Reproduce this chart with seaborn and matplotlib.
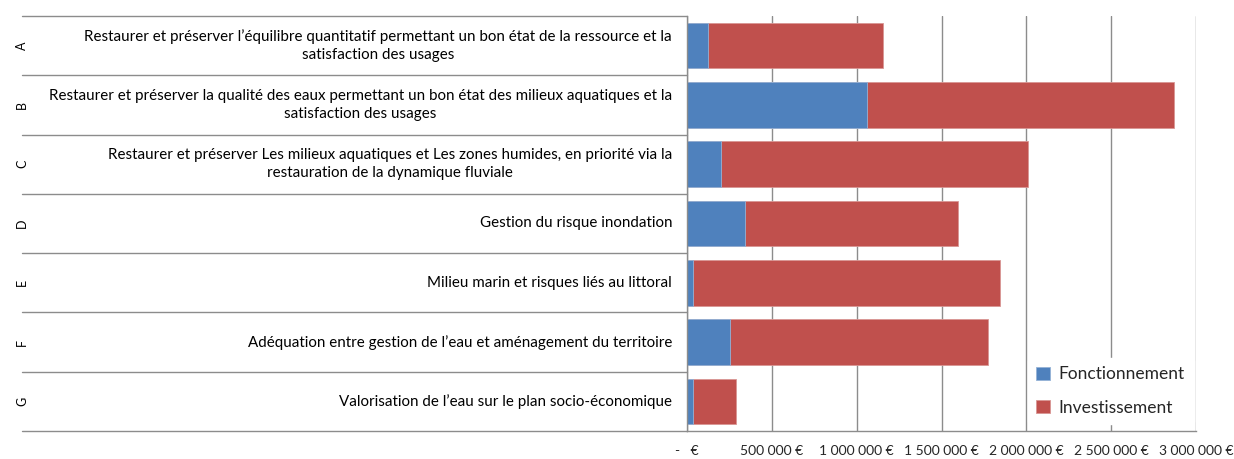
import numpy as np
import pandas as pd
import matplotlib
matplotlib.use('Agg')
import matplotlib.pyplot as plt
import seaborn as sns
from matplotlib.ticker import FuncFormatter

# Data
lettres = ['A', 'B', 'C', 'D', 'E', 'F', 'G']
libelles = [
    "Restaurer et préserver l’équilibre quantitatif permettant un bon état de la ressource et la\nsatisfaction des usages",
    "Restaurer et préserver la qualité des eaux permettant un bon état des milieux aquatiques et la\nsatisfaction des usages",
    "Restaurer et préserver Les milieux aquatiques et Les zones humides, en priorité via la\nrestauration de la dynamique fluviale",
    "Gestion du risque inondation",
    "Milieu marin et risques liés au littoral",
    "Adéquation entre gestion de l’eau et aménagement du territoire",
    "Valorisation de l’eau sur le plan socio-économique",
]
fonctionnement = [122000, 1058000, 200000, 343000, 38000, 253000, 38000]
investissement = [1032000, 1813000, 1810000, 1254000, 1808000, 1523000, 252000]
xticks = [0, 500000, 1000000, 1500000, 2000000, 2500000, 3000000]

BLEU = '#4F81BD'
ROUGE = '#C0504D'
GRIS = '#8C8C8C'

df = pd.DataFrame({'lettre': lettres, 'fonct': fonctionnement, 'invest': investissement})
df['total'] = df['fonct'] + df['invest']

sns.set_style('white')
plt.rcParams['font.family'] = ['Lato', 'DejaVu Sans']

W, H = 1234, 459
fig = plt.figure(figsize=(W / 100, H / 100), dpi=100)
ax = fig.add_axes([687 / W, (H - 431) / H, (1196 - 687) / W, (431 - 16) / H])

sns.barplot(data=df, y='lettre', x='total', color=ROUGE, orient='h', width=0.77,
            saturation=1, ax=ax, label='Investissement', edgecolor='#D99694', linewidth=0.6)
sns.barplot(data=df, y='lettre', x='fonct', color=BLEU, orient='h', width=0.77,
            saturation=1, ax=ax, label='Fonctionnement', edgecolor='#95B3D7', linewidth=0.6)

ax.set_xlim(0, 3000000)
ax.set_ylim(6.5, -0.5)
ax.set_xticks(xticks)

def fmt_euro(v, pos):
    if v == 0:
        return '-   €'
    return '{:,.0f} €'.format(v).replace(',', ' ')

ax.xaxis.set_major_formatter(FuncFormatter(fmt_euro))
ax.tick_params(axis='x', direction='out', length=5, color=GRIS, labelsize=10, pad=5)
ax.set_yticks([])
ax.set_xlabel('')
ax.set_ylabel('')
ax.xaxis.grid(True, color=GRIS, linewidth=1)
ax.set_axisbelow(True)

for s in ['top', 'right']:
    ax.spines[s].set_visible(False)
for s in ['left', 'bottom']:
    ax.spines[s].set_color(GRIS)
    ax.spines[s].set_linewidth(1)

# category axis on the left: labels, letters and separators
tr = ax.get_yaxis_transform()
px = 1 / (1196 - 687)
for i, (l, t) in enumerate(zip(lettres, libelles)):
    ax.text(-15 * px, i, t, transform=tr, ha='right', va='center', multialignment='center',
            fontsize=10.9, color='black', linespacing=1.35)
    ax.text((22 - 687) * px, i, l, transform=tr, ha='center', va='center', rotation=90,
            fontsize=9, color='black')
for b in np.arange(-0.5, 7, 1):
    ax.plot([(22 - 687) * px, 0], [b, b], transform=tr, color=GRIS, linewidth=1,
            clip_on=False)

handles, labels = ax.get_legend_handles_labels()
order = [labels.index('Fonctionnement'), labels.index('Investissement')]
leg = ax.legend([handles[o] for o in order], [labels[o] for o in order],
                loc='lower left', bbox_to_anchor=(0.652, -0.005), frameon=True,
                fontsize=12.5, handlelength=0.8, handleheight=0.8, handletextpad=0.5,
                labelspacing=1.0, borderpad=0.5)
leg.get_frame().set_edgecolor('white')
leg.get_frame().set_facecolor('white')
leg.get_frame().set_alpha(1)

fig.savefig('out.png', dpi=100)
